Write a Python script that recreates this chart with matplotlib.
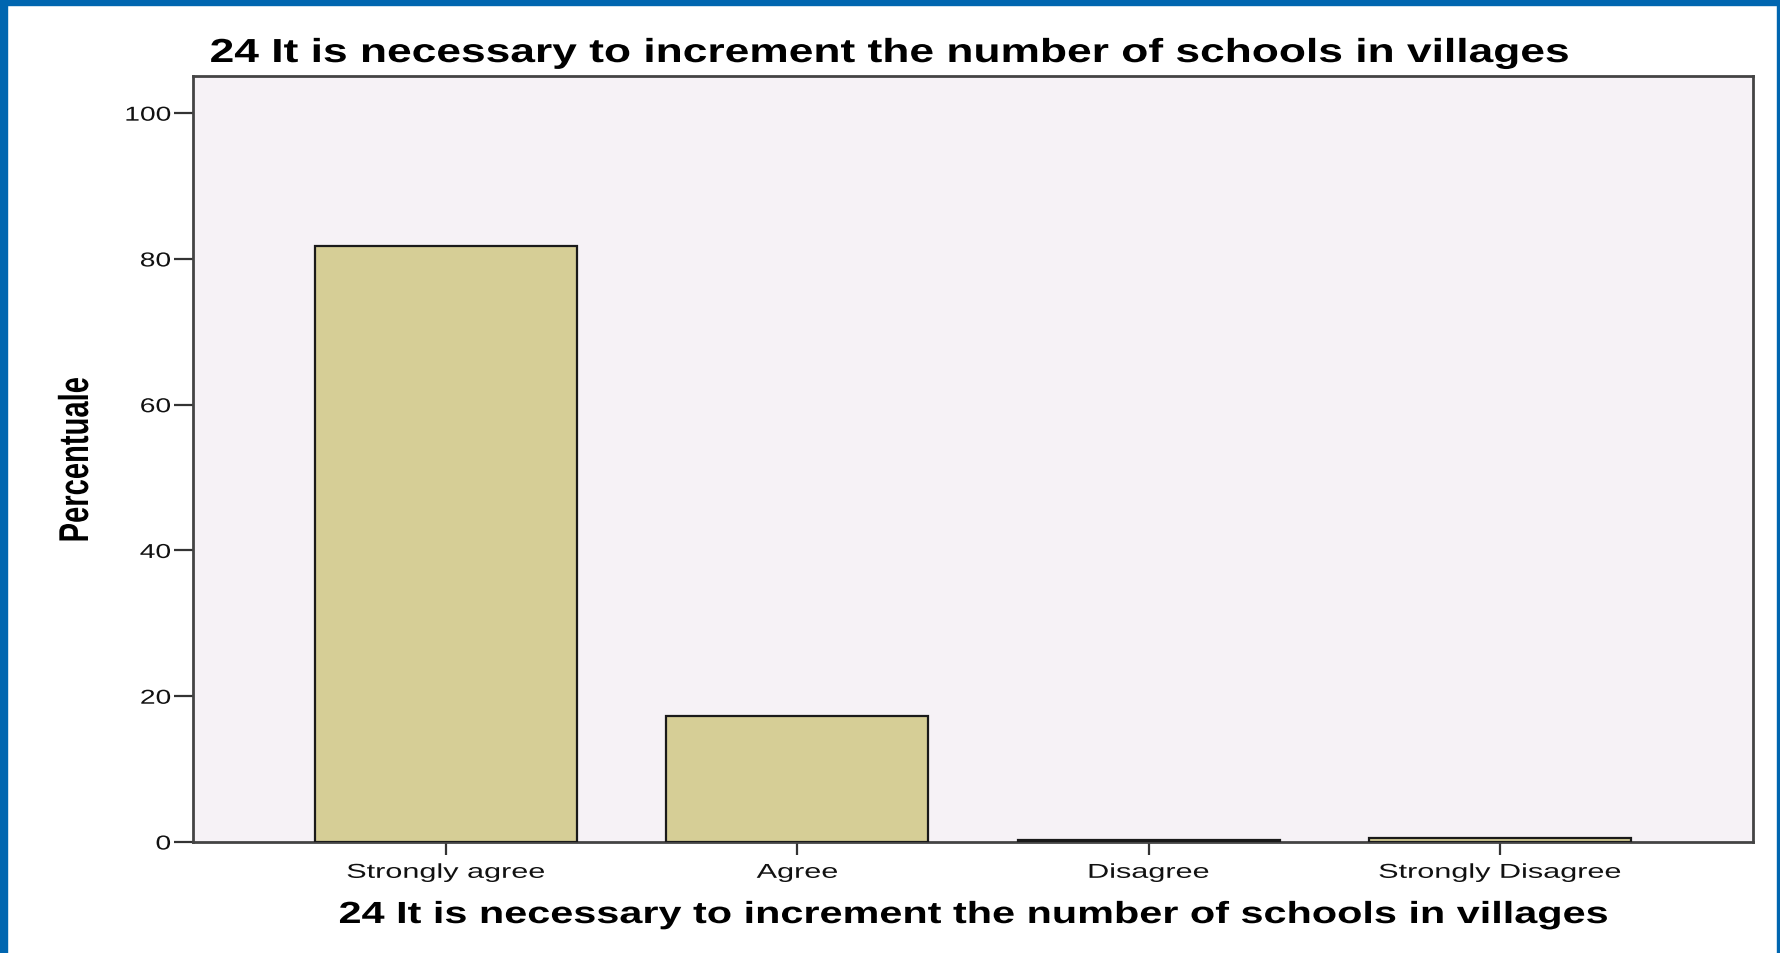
import matplotlib
matplotlib.use('Agg')
import matplotlib.pyplot as plt
from matplotlib import patheffects
from matplotlib.patches import Rectangle
from matplotlib.transforms import Affine2D

categories = ['Strongly agree', 'Agree', 'Disagree', 'Strongly Disagree']
percent = [81.8, 17.3, 0.3, 0.6]
y_ticks = [0, 20, 40, 60, 80, 100]
title = '24 It is necessary to increment the number of schools in villages'
y_label = 'Percentuale'

BAR_COLOR = '#d6ce96'
BG_COLOR = '#f6f2f6'
BORDER_BLUE = '#0066b0'


class Stretch(patheffects.AbstractPathEffect):
    """Widen (or squeeze) the glyphs of a text horizontally, like the exported SPSS chart."""

    def __init__(self, sx, anchor='center'):
        super().__init__()
        self.sx = sx
        self.anchor = anchor

    def draw_path(self, renderer, gc, tpath, affine, rgbFace=None):
        ext = tpath.get_extents()
        if self.anchor == 'left':
            cx = ext.x0
        elif self.anchor == 'right':
            cx = ext.x1
        else:
            cx = (ext.x0 + ext.x1) / 2
        t = Affine2D().translate(-cx, 0).scale(self.sx, 1).translate(cx, 0) + affine
        renderer.draw_path(gc, tpath, t, rgbFace)


plt.rcParams['font.family'] = ['Liberation Sans', 'DejaVu Sans']

W, H = 1781, 954
fig = plt.figure(figsize=(W / 100, H / 100), dpi=100)
fig.patch.set_facecolor('white')

# blue frame round the slide
fig.patches.append(Rectangle((0, 0), 7 / W, 1, transform=fig.transFigure, color=BORDER_BLUE, zorder=0))
fig.patches.append(Rectangle((0, 1 - 6 / H), 1, 6 / H, transform=fig.transFigure, color=BORDER_BLUE, zorder=0))
fig.patches.append(Rectangle((1 - 4 / W, 0), 4 / W, 1, transform=fig.transFigure, color=BORDER_BLUE, zorder=0))

ax = fig.add_axes([193 / W, 1 - 843 / H, (1753 - 193) / W, (843 - 77) / H])
ax.set_facecolor(BG_COLOR)

x = list(range(len(categories)))
ax.bar(x, percent, width=0.746, color=BAR_COLOR, edgecolor='#1a1a1a', linewidth=1.6, zorder=3)

ax.set_xlim(-0.72, 3.72)
ax.set_ylim(0, 105.1)
ax.set_yticks(y_ticks)
ax.set_yticklabels([str(v) for v in y_ticks], fontsize=14.5, color='#111111')
ax.set_xticks(x)
ax.set_xticklabels(categories, fontsize=14.5, color='#111111')
ax.tick_params(axis='y', length=14, width=1.6, color='#333333', pad=2)
ax.tick_params(axis='x', length=9, width=1.6, color='#333333', pad=6)

for lbl in ax.get_xticklabels():
    lbl.set_path_effects([Stretch(1.52, 'center')])
for lbl in ax.get_yticklabels():
    lbl.set_path_effects([Stretch(1.4, 'right')])

for side in ['left', 'right', 'top', 'bottom']:
    ax.spines[side].set_color('#444444')
    ax.spines[side].set_linewidth(2)

fig.text(210 / W, 1 - 63 / H, title, fontsize=24, fontweight='bold', va='baseline', ha='left',
         path_effects=[Stretch(1.33, 'left')])
fig.text(973 / W, 1 - 924 / H, title, fontsize=22, fontweight='bold', va='baseline', ha='center',
         path_effects=[Stretch(1.355, 'center')])
fig.text(77 / W, 1 - 461 / H, y_label, fontsize=30, fontweight='bold',
         rotation=90, va='center', ha='center', path_effects=[Stretch(0.7, 'center')])

fig.savefig('out.png', dpi=100)
